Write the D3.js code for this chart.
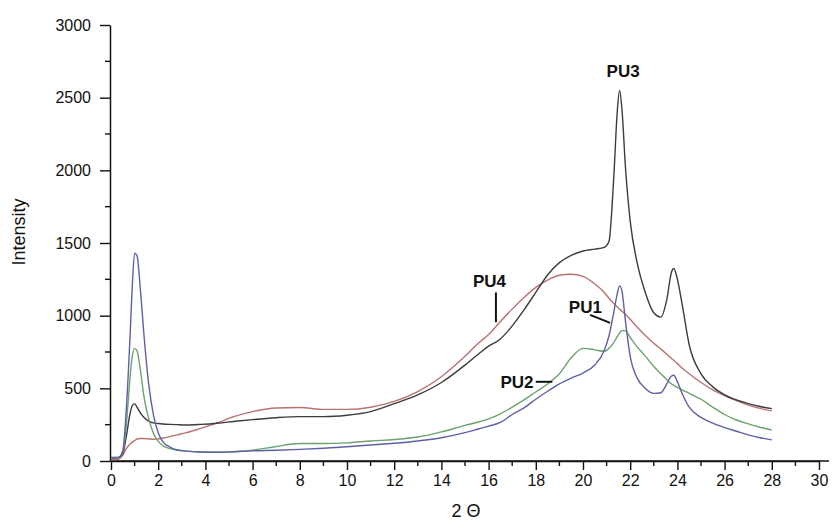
<!DOCTYPE html>
<html>
<head>
<meta charset="utf-8">
<script src="https://cdn.jsdelivr.net/npm/d3@7/dist/d3.min.js"></script>
<style>
  html, body { margin: 0; padding: 0; background: #fff; }
  svg { display: block; }
  text { font-family: "Liberation Sans", Arial, sans-serif; fill: #111; }
</style>
</head>
<body>
<svg id="chart" width="838" height="527"></svg>
<script>
// Diffraction angle (2θ, degrees) sampled for every pattern
const twoTheta = [0, 0.3, 0.5, 0.65, 0.8, 0.9, 1.0, 1.1, 1.25, 1.4, 1.6, 1.8, 2.0, 2.2, 2.5, 2.8, 3.2, 3.8, 4.5, 5.2,
  6, 7, 8, 9, 10, 11, 12, 13, 14, 15, 15.6, 16, 16.5, 17, 17.5, 18, 18.5, 19, 19.5, 20, 20.5, 20.9, 21.1, 21.3,
  21.45, 21.55, 21.65, 21.8, 22.0, 22.3, 22.6, 23.0, 23.3, 23.55, 23.75, 23.85, 24.0, 24.2, 24.5, 25, 25.5, 26,
  26.5, 27, 27.5, 28];

// Intensity of each polyurethane sample
const pu1 = [20, 22, 70, 360, 830, 1200, 1430, 1415, 1170, 860, 525, 315, 195, 132, 96, 76, 68, 62, 60, 64,
  70, 74, 80, 88, 98, 110, 122, 138, 160, 195, 222, 240, 265, 320, 365, 425, 480, 530, 570, 605, 660, 760, 860, 1020,
  1150, 1205, 1170, 960, 720, 570, 505, 465, 470, 530, 585, 590, 545, 465, 370, 300, 260, 230,
  205, 180, 160, 145];
const pu2 = [20, 22, 60, 250, 560, 720, 775, 760, 620, 440, 290, 190, 135, 105, 85, 76, 68, 62, 60, 64,
  75, 100, 120, 120, 125, 138, 148, 165, 200, 245, 270, 290, 325, 370, 420, 475, 530, 600, 710, 775, 765, 755, 775, 815,
  855, 880, 898, 895, 850, 785, 730, 650, 600, 560, 530, 520, 505, 490, 465, 425, 370, 320,
  282, 255, 232, 213];
const pu3 = [25, 25, 50, 170, 320, 380, 395, 370, 330, 300, 275, 262, 258, 255, 252, 250, 248, 252, 260, 272,
  285, 298, 305, 305, 315, 340, 395, 455, 540, 660, 740, 790, 840, 930, 1040, 1160, 1280, 1365, 1415, 1445, 1458, 1470, 1510, 1940,
  2400, 2550, 2420, 2020, 1650, 1360, 1180, 1020, 990, 1110, 1300, 1325, 1250, 1080, 800, 600, 510, 455,
  420, 395, 375, 360];
const pu4 = [10, 12, 40, 85, 115, 130, 140, 150, 155, 155, 152, 150, 152, 158, 168, 180, 195, 225, 262, 305,
  340, 365, 368, 355, 355, 370, 410, 478, 580, 720, 815, 870, 960, 1045, 1125, 1195, 1245, 1278, 1285, 1270, 1218, 1160, 1120, 1085,
  1060, 1045, 1030, 1010, 975, 920, 870, 810, 770, 735, 705, 692, 670, 640, 600, 540, 490, 450,
  415, 385, 362, 345];

const seriesNames = ["PU1", "PU2", "PU3", "PU4"];
const seriesColors = ["#5e60a6", "#6ca26e", "#3c3c3c", "#b87272"];

// Axis ticks
const xTickValues = d3.range(0, 31, 2);
const xMinorTicks = d3.range(1, 30, 2);
const yTickValues = [0, 500, 1000, 1500, 2000, 2500, 3000];
const yMinorTicks = [250, 750, 1250, 1750, 2250, 2750];

// Sample labels with their leader lines, in data units
const labelText = ["PU3", "PU4", "PU1", "PU2"];
const labelX = [21.7, 16.04, 20.1, 17.2];
const labelY = [2640, 1200, 1020, 505];
const leaderFrom = [null, [16.31, 1160], [20.3, 1005], [18.0, 545]];
const leaderTo = [null, [16.31, 955], [21.15, 950], [18.7, 545]];

const svg = d3.select("#chart");
const x = d3.scaleLinear().domain([0, 30]).range([111, 819]);
const y = d3.scaleLinear().domain([0, 3000]).range([461, 25]);

// Axes
const gx = svg.append("g").attr("transform", "translate(0,461)");
gx.append("line").attr("x1", 110).attr("x2", 829).attr("stroke", "#111").attr("stroke-width", 1.5);
gx.call(d3.axisBottom(x).tickValues(xTickValues).tickSize(9).tickSizeOuter(0).tickPadding(4).tickFormat(d3.format("d")));
gx.append("g").selectAll("line").data(xMinorTicks).join("line")
  .attr("x1", d => x(d)).attr("x2", d => x(d)).attr("y1", 0).attr("y2", 5)
  .attr("stroke", "#111").attr("stroke-width", 1.4);

const gy = svg.append("g").attr("transform", "translate(110,0)");
gy.call(d3.axisLeft(y).tickValues(yTickValues).tickSize(10).tickSizeOuter(0).tickPadding(9).tickFormat(d3.format("d")));
gy.append("g").selectAll("line").data(yMinorTicks).join("line")
  .attr("y1", d => y(d)).attr("y2", d => y(d)).attr("x1", 0).attr("x2", -5)
  .attr("stroke", "#111").attr("stroke-width", 1.4);

[gx, gy].forEach(g => {
  g.selectAll(".domain").attr("stroke", "#111").attr("stroke-width", 1.5);
  g.selectAll(".tick line").attr("stroke", "#111").attr("stroke-width", 1.4);
  g.selectAll(".tick text").attr("font-size", 16).attr("fill", "#111")
    .style("font-family", "'Liberation Sans', Arial, sans-serif");
});
gx.selectAll(".tick text").attr("dy", "0.75em");

// Axis titles
svg.append("text").attr("transform", "translate(25,232) rotate(-90)")
  .attr("text-anchor", "middle").attr("font-size", 18).text("Intensity");
svg.append("text").attr("x", 466).attr("y", 517)
  .attr("text-anchor", "middle").attr("font-size", 18).text("2 Θ");

// Diffraction patterns
const line = d3.line().x(d => x(d[0])).y(d => y(d[1])).curve(d3.curveMonotoneX);
const allSeries = [pu1, pu2, pu3, pu4];
const drawOrder = [3, 2, 1, 0];
drawOrder.forEach(i => {
  svg.append("path")
    .datum(twoTheta.map((t, k) => [t, allSeries[i][k]]))
    .attr("fill", "none")
    .attr("stroke", seriesColors[i])
    .attr("stroke-width", 1.4)
    .attr("stroke-linejoin", "round")
    .attr("d", line);
});

// Sample labels
labelText.forEach((t, i) => {
  svg.append("text").attr("x", x(labelX[i])).attr("y", y(labelY[i]))
    .attr("text-anchor", "middle").attr("font-size", 17).attr("font-weight", "bold").text(t);
  if (leaderFrom[i]) {
    svg.append("line")
      .attr("x1", x(leaderFrom[i][0])).attr("y1", y(leaderFrom[i][1]))
      .attr("x2", x(leaderTo[i][0])).attr("y2", y(leaderTo[i][1]))
      .attr("stroke", "#111").attr("stroke-width", 2);
  }
});
</script>
</body>
</html>
